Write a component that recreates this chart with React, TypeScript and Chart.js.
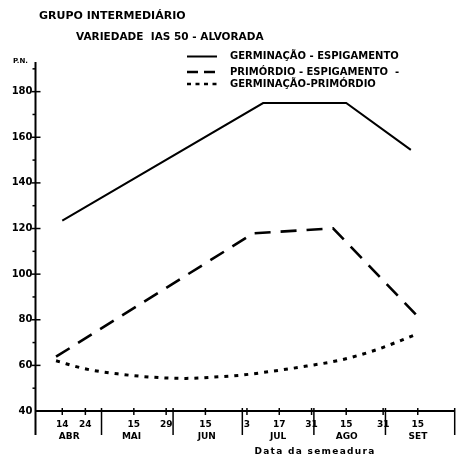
import { useEffect, useRef } from 'react';
import { Chart, registerables } from 'chart.js';
Chart.register(...registerables);

// x values are day numbers counted from 1 April (1 Apr = 0)
const solidDays = [13, 100, 136, 164];
const solidValues = [123.5, 175, 175, 154.5];
const dashedDays = [10.3, 95.8, 130.3, 167.2];
const dashedValues = [63.8, 117.9, 120.1, 81.2];
const dottedDays = [10.3, 23.3, 37.7, 52.2, 66.6, 81, 91.2, 104.4, 118.9, 133.3, 147.8, 166.6];
const dottedValues = [62, 58.4, 56.2, 54.8, 54.3, 55, 55.8, 57.5, 59.7, 62.3, 66.4, 73.7];
const seriesNames = ['GERMINAÇÃO - ESPIGAMENTO', 'PRIMÓRDIO - ESPIGAMENTO  -', 'GERMINAÇÃO-PRIMÓRDIO'];

const yTicks = [40, 60, 80, 100, 120, 140, 160, 180];
const yMinorTicks = [50, 70, 90, 110, 130, 150, 170, 190];
const dayTicks = [13, 23, 44, 58, 75, 93, 107, 121, 136, 152, 167];
const dayLabels = ['14', '24', '15', '29', '15', '3', '17', '31', '15', '31', '15'];
const monthTicks = [16, 43, 75.6, 106.5, 136.2, 167.1];
const monthLabels = ['ABR', 'MAI', 'JUN', 'JUL', 'AGO', 'SET'];
const monthBoundaries = [30, 61, 91, 122, 153, 183];

const titleText = 'GRUPO INTERMEDIÁRIO';
const subtitleText = 'VARIEDADE  IAS 50 - ALVORADA';
const yAxisTitle = 'P.N.';
const xAxisTitle = 'Data da semeadura';

const FONT = '"DejaVu Sans", sans-serif';

const decorPlugin = {
  id: 'decor',
  afterDraw(chart: any) {
    const ctx = chart.ctx as CanvasRenderingContext2D;
    const xs = chart.scales.x;
    const ys = chart.scales.y;
    const area = chart.chartArea;
    const x0 = area.left;
    const yb = area.bottom;
    ctx.save();
    ctx.strokeStyle = '#000';
    ctx.fillStyle = '#000';
    ctx.lineCap = 'butt';
    // axes
    ctx.lineWidth = 2;
    ctx.beginPath();
    ctx.moveTo(x0, area.top);
    ctx.lineTo(x0, yb + 24);
    ctx.stroke();
    ctx.beginPath();
    ctx.moveTo(x0, yb);
    ctx.lineTo(area.right, yb);
    ctx.stroke();
    // month separators
    ctx.lineWidth = 1.5;
    monthBoundaries.forEach((d) => {
      const px = xs.getPixelForValue(d);
      ctx.beginPath();
      ctx.moveTo(px, yb - 3);
      ctx.lineTo(px, yb + 24);
      ctx.stroke();
    });
    // y ticks
    yTicks.forEach((v) => {
      if (v === 40) return;
      const py = ys.getPixelForValue(v);
      ctx.beginPath();
      ctx.moveTo(x0 - 4, py);
      ctx.lineTo(x0 + 5, py);
      ctx.stroke();
    });
    yMinorTicks.forEach((v) => {
      const py = ys.getPixelForValue(v);
      ctx.beginPath();
      ctx.moveTo(x0 - 3, py);
      ctx.lineTo(x0, py);
      ctx.stroke();
    });
    // x ticks
    dayTicks.forEach((d) => {
      const px = xs.getPixelForValue(d);
      ctx.beginPath();
      ctx.moveTo(px, yb - 3);
      ctx.lineTo(px, yb + 4);
      ctx.stroke();
    });
    // titles
    ctx.textBaseline = 'middle';
    ctx.textAlign = 'left';
    ctx.font = `bold 11px ${FONT}`;
    ctx.fillText(titleText, 39, 16);
    ctx.font = `bold 10.5px ${FONT}`;
    ctx.fillText(subtitleText, 76, 37.5);
    ctx.font = `bold 7px ${FONT}`;
    ctx.fillText(yAxisTitle, 13, 61);
    // x axis title
    ctx.font = `bold 9px ${FONT}`;
    (ctx as any).letterSpacing = '1.3px';
    ctx.textAlign = 'center';
    ctx.fillText(xAxisTitle, 315, 452);
    (ctx as any).letterSpacing = '0px';
    // legend
    const rows = [56.5, 72, 84];
    const dashes = [[], [11, 6], [4, 4.5]];
    const widths = [2, 2.5, 2.5];
    ctx.textAlign = 'left';
    ctx.font = `bold 10px ${FONT}`;
    chart.data.datasets.forEach((ds: any, i: number) => {
      ctx.save();
      ctx.lineWidth = widths[i];
      ctx.setLineDash(dashes[i]);
      ctx.beginPath();
      ctx.moveTo(187, rows[i]);
      ctx.lineTo(217, rows[i]);
      ctx.stroke();
      ctx.restore();
      ctx.fillText(ds.label, 230, rows[i]);
    });
    ctx.restore();
  },
};

export default function App() {
  const ref = useRef<HTMLCanvasElement | null>(null);
  useEffect(() => {
    if (!ref.current) return;
    const toPts = (xs: number[], ys: number[]) => xs.map((x, i) => ({ x, y: ys[i] }));
    const chart = new Chart(ref.current, {
      type: 'line',
      data: {
        datasets: [
          {
            label: seriesNames[0],
            data: toPts(solidDays, solidValues),
            borderColor: '#000',
            borderWidth: 2,
            pointRadius: 0,
            tension: 0,
          },
          {
            label: seriesNames[1],
            data: toPts(dashedDays, dashedValues),
            borderColor: '#000',
            borderWidth: 2.6,
            borderDash: [16, 10],
            pointRadius: 0,
            tension: 0,
          },
          {
            label: seriesNames[2],
            data: toPts(dottedDays, dottedValues),
            borderColor: '#000',
            borderWidth: 3,
            borderDash: [4, 6],
            pointRadius: 0,
            tension: 0.4,
            cubicInterpolationMode: 'monotone',
          },
        ] as any,
      },
      options: {
        responsive: false,
        animation: false,
        layout: { padding: { top: 62, left: 0, right: 1.3, bottom: 0 } },
        plugins: { legend: { display: false }, title: { display: false }, tooltip: { enabled: false } },
        scales: {
          x: {
            type: 'linear',
            min: 1.4,
            max: 183,
            afterBuildTicks: (s: any) => {
              s.ticks = [...dayTicks, ...monthTicks].map((v) => ({ value: v }));
            },
            afterFit: (s: any) => {
              s.height = 44;
            },
            ticks: {
              autoSkip: false,
              maxRotation: 0,
              minRotation: 0,
              padding: 7.9,
              color: '#000',
              font: { family: FONT, size: 9, weight: 'bold', lineHeight: 1.35 },
              callback: (_v: any, i: number) =>
                i < dayLabels.length ? dayLabels[i] : ['', monthLabels[i - dayLabels.length]],
            },
            grid: { display: false, drawTicks: false },
            border: { display: false },
          },
          y: {
            min: 40,
            max: 193,
            afterBuildTicks: (s: any) => {
              s.ticks = yTicks.map((v) => ({ value: v }));
            },
            afterFit: (s: any) => {
              s.width = 35.5;
            },
            ticks: {
              padding: 3,
              color: '#000',
              font: { family: FONT, size: 10, weight: 'bold' },
            },
            grid: { display: false, drawTicks: false },
            border: { display: false },
          },
        },
      } as any,
      plugins: [decorPlugin],
    });
    return () => chart.destroy();
  }, []);
  return (
    <canvas
      ref={ref}
      width={456}
      height={455}
      style={{ position: 'fixed', left: 0, top: 0, width: 456, height: 455, display: 'block', background: '#fff' }}
    />
  );
}
